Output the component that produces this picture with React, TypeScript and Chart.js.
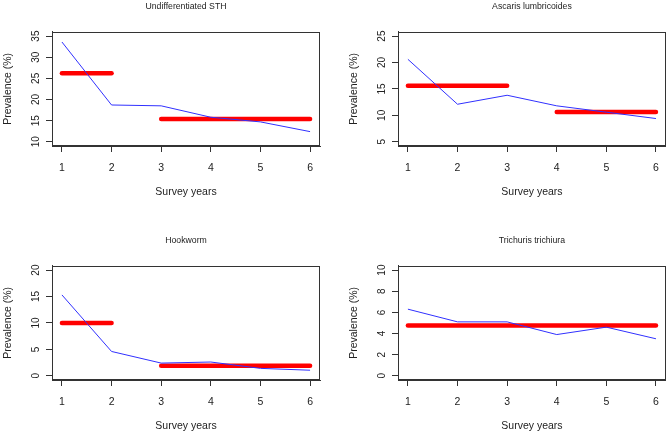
import React, { useEffect, useRef } from "react";
import { Chart, registerables } from "chart.js";

Chart.register(...registerables);

// ---- data ----
const surveyYears = [1, 2, 3, 4, 5, 6];
const xTickValues = [1, 2, 3, 4, 5, 6];

const sthObserved = [33.6, 18.7, 18.5, 15.8, 14.7, 12.4];
const sthSegFrom = [1, 3];
const sthSegTo = [2, 6];
const sthSegValue = [26.2, 15.4];
const sthYTicks = [10, 15, 20, 25, 30, 35];

const ascarisObserved = [20.6, 12.1, 13.8, 11.8, 10.6, 9.4];
const ascarisSegFrom = [1, 4];
const ascarisSegTo = [3, 6];
const ascarisSegValue = [15.6, 10.65];
const ascarisYTicks = [5, 10, 15, 20, 25];

const hookwormObserved = [15.3, 4.6, 2.4, 2.6, 1.4, 1.05];
const hookwormSegFrom = [1, 3];
const hookwormSegTo = [2, 6];
const hookwormSegValue = [10.0, 1.9];
const hookwormYTicks = [0, 5, 10, 15, 20];

const trichurisObserved = [6.3, 5.1, 5.1, 3.9, 4.6, 3.5];
const trichurisSegFrom = [1];
const trichurisSegTo = [6];
const trichurisSegValue = [4.75];
const trichurisYTicks = [0, 2, 4, 6, 8, 10];

const FONT = "'Liberation Sans', Arial, sans-serif";
const TEXT = "#222222";
const AXIS = "#333333";

type PanelCfg = {
  title: string;
  observed: number[];
  segFrom: number[];
  segTo: number[];
  segValue: number[];
  yTicks: number[];
  left: number;
  top: number;
  width: number;
  height: number;
  padLeft: number;
  padRight: number;
  titleTop: number;
  xScaleHeight: number;
  xTitleBottom: number;
};

const panels: PanelCfg[] = [
  { title: "Undifferentiated STH", observed: sthObserved, segFrom: sthSegFrom, segTo: sthSegTo, segValue: sthSegValue, yTicks: sthYTicks,
    left: 0, top: 0, width: 335, height: 218, padLeft: 0, padRight: 15, titleTop: 1.2, xScaleHeight: 72, xTitleBottom: 19.4 },
  { title: "Ascaris lumbricoides", observed: ascarisObserved, segFrom: ascarisSegFrom, segTo: ascarisSegTo, segValue: ascarisSegValue, yTicks: ascarisYTicks,
    left: 335, top: 0, width: 334, height: 218, padLeft: 11, padRight: 3, titleTop: 1.2, xScaleHeight: 72, xTitleBottom: 19.4 },
  { title: "Hookworm", observed: hookwormObserved, segFrom: hookwormSegFrom, segTo: hookwormSegTo, segValue: hookwormSegValue, yTicks: hookwormYTicks,
    left: 0, top: 218, width: 335, height: 217, padLeft: 0, padRight: 15, titleTop: 17.2, xScaleHeight: 55, xTitleBottom: 2.4 },
  { title: "Trichuris trichiura", observed: trichurisObserved, segFrom: trichurisSegFrom, segTo: trichurisSegTo, segValue: trichurisSegValue, yTicks: trichurisYTicks,
    left: 335, top: 218, width: 334, height: 217, padLeft: 11, padRight: 3, titleTop: 17.2, xScaleHeight: 55, xTitleBottom: 2.4 },
];

// R-style box around the plot region
const boxPlugin = {
  id: "rbox",
  afterDraw(chart: any) {
    const { ctx, chartArea } = chart;
    ctx.save();
    ctx.strokeStyle = AXIS;
    ctx.lineWidth = 1;
    const l = Math.round(chartArea.left) + 0.5;
    const t = Math.round(chartArea.top) + 0.5;
    const r = Math.round(chartArea.right) - 0.5;
    const b = Math.round(chartArea.bottom) - 0.5;
    ctx.strokeRect(l, t, r - l, b - t);
    ctx.restore();
  },
};

// R-style rotated y tick labels (read bottom to top), placed by the y scale
const yLabelPlugin = {
  id: "rylabels",
  afterDraw(chart: any) {
    const { ctx, chartArea } = chart;
    const scale = chart.scales.y;
    ctx.save();
    ctx.fillStyle = TEXT;
    ctx.font = `10px ${FONT}`;
    ctx.textAlign = "center";
    ctx.textBaseline = "middle";
    scale.ticks.forEach((t: any) => {
      const py = scale.getPixelForValue(t.value);
      ctx.save();
      ctx.translate(chartArea.left - 15.5, py);
      ctx.rotate(-Math.PI / 2);
      ctx.fillText(String(t.value), 0, 0);
      ctx.restore();
    });
    ctx.restore();
  },
};

function Panel({ cfg }: { cfg: PanelCfg }) {
  const ref = useRef<HTMLCanvasElement | null>(null);
  useEffect(() => {
    if (!ref.current) return;
    const yLo = cfg.yTicks[0];
    const yHi = cfg.yTicks[cfg.yTicks.length - 1];
    const yPad = (yHi - yLo) * 0.04;
    const xLo = xTickValues[0];
    const xHi = xTickValues[xTickValues.length - 1];
    const xPad = (xHi - xLo) * 0.04;

    const datasets: any[] = [
      {
        label: "observed",
        data: surveyYears.map((x, i) => ({ x, y: cfg.observed[i] })),
        borderColor: "#3030ff",
        borderWidth: 1,
        pointRadius: 0,
        tension: 0,
        fill: false,
      },
    ];
    cfg.segValue.forEach((v, i) => {
      datasets.push({
        label: "segment" + i,
        data: [
          { x: cfg.segFrom[i], y: v },
          { x: cfg.segTo[i], y: v },
        ],
        borderColor: "#ff0000",
        borderWidth: 4.5,
        borderCapStyle: "round",
        pointRadius: 0,
        tension: 0,
        fill: false,
      });
    });

    const chart = new Chart(ref.current, {
      type: "line",
      data: { datasets },
      plugins: [boxPlugin, yLabelPlugin],
      options: {
        animation: false,
        responsive: false,
        devicePixelRatio: 1,
        layout: { padding: { left: cfg.padLeft, right: cfg.padRight, top: 0, bottom: 0 } },
        plugins: {
          legend: { display: false },
          tooltip: { enabled: false },
          title: {
            display: true,
            text: cfg.title,
            fullSize: false,
            color: TEXT,
            font: { family: FONT, size: 8.7, weight: "normal" },
            padding: { top: cfg.titleTop, bottom: 20.2 },
          },
        },
        scales: {
          x: {
            type: "linear",
            min: xLo - xPad,
            max: xHi + xPad,
            afterBuildTicks: (s: any) => {
              s.ticks = xTickValues.map((v) => ({ value: v }));
            },
            afterFit: (s: any) => {
              s.height = cfg.xScaleHeight;
            },
            grid: { display: true, drawOnChartArea: false, drawTicks: true, tickLength: 6, color: AXIS, lineWidth: 1 },
            border: { display: true, color: AXIS },
            ticks: { color: TEXT, font: { family: FONT, size: 10.5 }, padding: 10, maxRotation: 0, minRotation: 0 },
            title: {
              display: true,
              text: "Survey years",
              color: TEXT,
              font: { family: FONT, size: 10.5 },
              padding: { top: 0, bottom: cfg.xTitleBottom },
            },
          },
          y: {
            type: "linear",
            min: yLo - yPad,
            max: yHi + yPad,
            afterBuildTicks: (s: any) => {
              s.ticks = cfg.yTicks.map((v) => ({ value: v }));
            },
            afterFit: (s: any) => {
              s.width = 52;
            },
            grid: { display: true, drawOnChartArea: false, drawTicks: true, tickLength: 6, color: AXIS, lineWidth: 1 },
            border: { display: true, color: AXIS },
            ticks: { display: false },
            title: {
              display: true,
              text: "Prevalence (%)",
              color: TEXT,
              font: { family: FONT, size: 10.5 },
              padding: { top: 1.4, bottom: 0 },
            },
          },
        },
      } as any,
    });
    return () => chart.destroy();
  }, [cfg]);

  return (
    <canvas
      ref={ref}
      width={cfg.width}
      height={cfg.height}
      style={{ position: "absolute", left: cfg.left, top: cfg.top, width: cfg.width, height: cfg.height }}
    />
  );
}

export default function App() {
  return (
    <div style={{ position: "fixed", left: 0, top: 0, width: 669, height: 435, background: "#ffffff", overflow: "hidden" }}>
      {panels.map((p) => (
        <Panel key={p.title} cfg={p} />
      ))}
    </div>
  );
}
